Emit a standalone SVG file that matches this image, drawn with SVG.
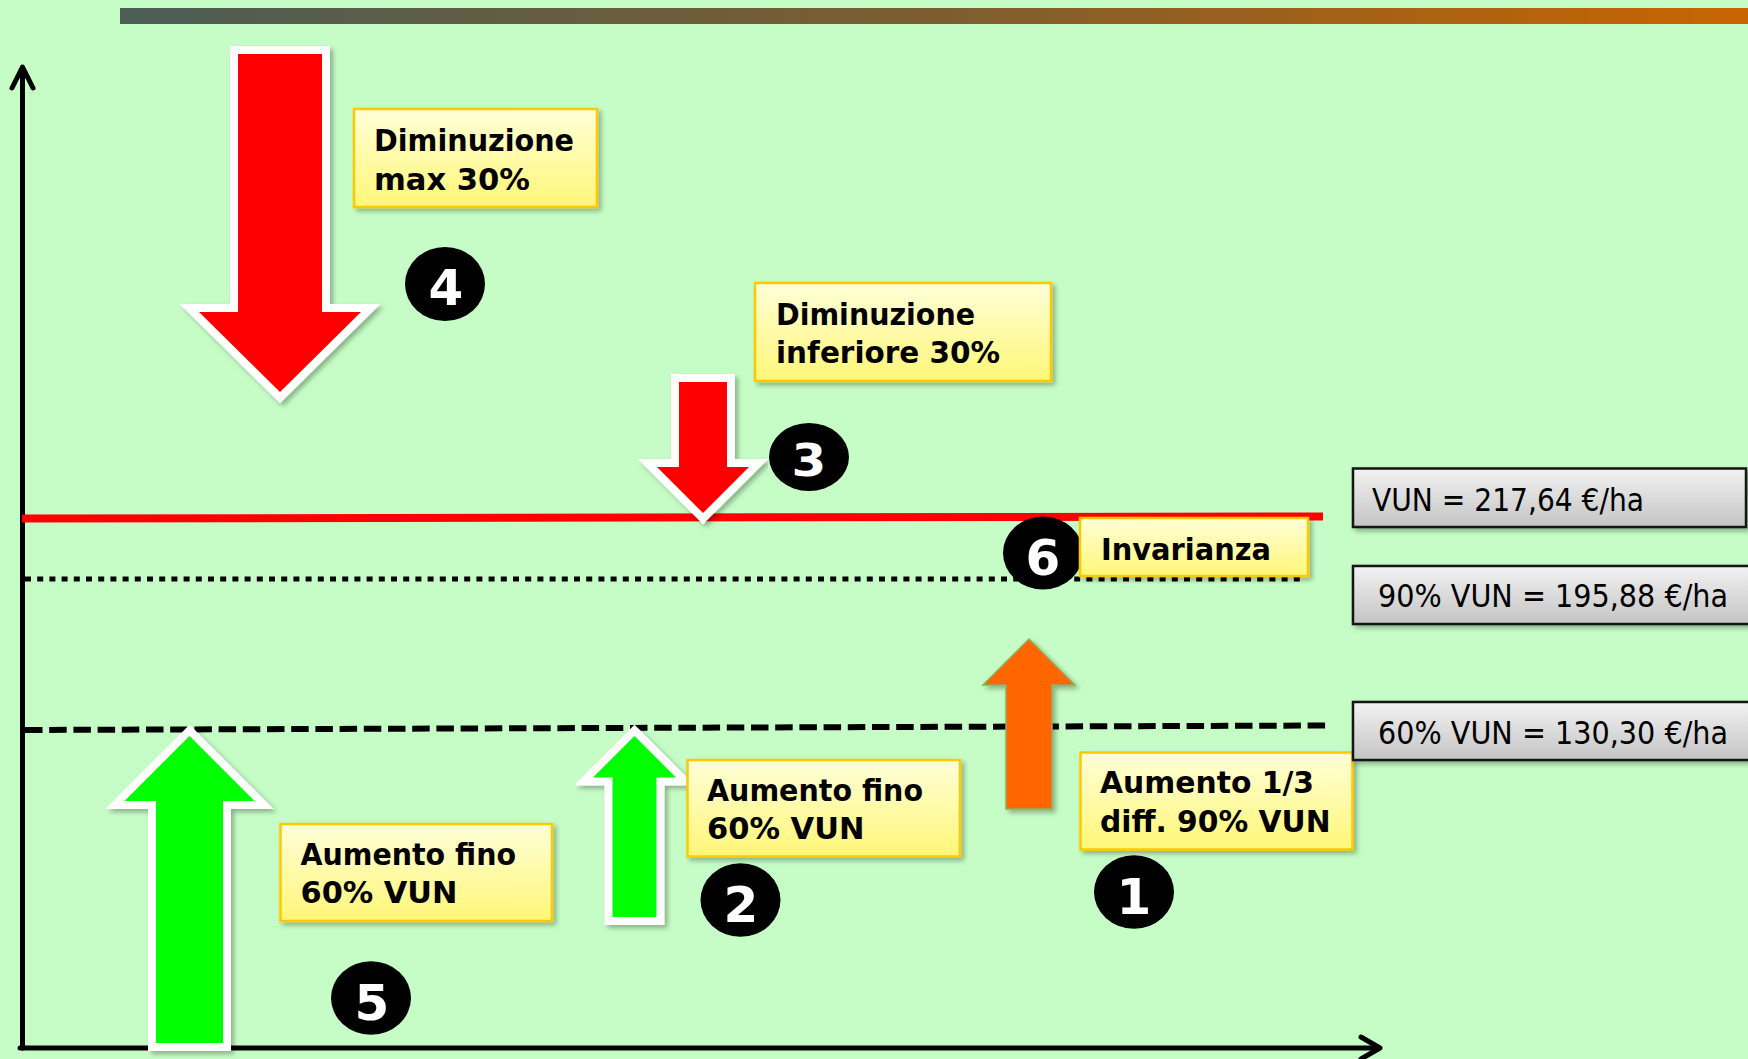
<svg xmlns="http://www.w3.org/2000/svg" width="1748" height="1059" viewBox="0 0 1748 1059">
<defs>
<linearGradient id="bar" x1="0" y1="0" x2="1" y2="0">
<stop offset="0" stop-color="#4b5d55"/>
<stop offset="0.5" stop-color="#7c5d30"/>
<stop offset="1" stop-color="#c96500"/>
</linearGradient>
<linearGradient id="yel" x1="0" y1="0" x2="0" y2="1">
<stop offset="0" stop-color="#ffffd8"/>
<stop offset="1" stop-color="#fff678"/>
</linearGradient>
<linearGradient id="gray" x1="0" y1="0" x2="0" y2="1">
<stop offset="0" stop-color="#f2f2f2"/>
<stop offset="1" stop-color="#c4c4c4"/>
</linearGradient>
<filter id="sh" x="-20%" y="-20%" width="140%" height="140%">
<feDropShadow dx="3" dy="3" stdDeviation="2.5" flood-color="#000" flood-opacity="0.3"/>
</filter>
<style>
.lbl{font-family:"DejaVu Sans","Liberation Sans",sans-serif;font-weight:bold;font-size:31px;fill:#000}
.val{font-family:"DejaVu Sans","Liberation Sans",sans-serif;font-size:32px;fill:#000}
.num{font-family:"DejaVu Sans","Liberation Sans",sans-serif;font-weight:bold;font-size:50px;fill:#fff;text-anchor:middle}
.ybox{fill:url(#yel);stroke:#ffc800;stroke-width:2.5;filter:url(#sh)}
.gbox{fill:url(#gray);stroke:#141414;stroke-width:2.5;filter:url(#sh)}
.wa{stroke:#fff;stroke-width:16;paint-order:stroke;stroke-linejoin:miter;stroke-miterlimit:4;filter:url(#sh)}
.axis{stroke:#000;stroke-width:5;fill:none;stroke-linecap:round;stroke-linejoin:round}
</style>
</defs>
<rect width="1748" height="1059" fill="#c6fdc6"/>
<rect x="120" y="8" width="1628" height="16" fill="url(#bar)"/>

<g id="connectors">
<line class="axis" x1="22.5" y1="1048" x2="22.5" y2="68" stroke-linecap="butt"/>
<polyline class="axis" points="12,88 22.5,67 33,88"/>
<line class="axis" x1="20" y1="1048" x2="1378" y2="1048" stroke-linecap="butt"/>
<polyline class="axis" points="1361,1037 1380,1048 1361,1059"/>
<line id="line-vun" x1="22" y1="518.5" x2="1323" y2="516.5" stroke="#ff0000" stroke-width="8"/>
<line id="line-90" x1="25" y1="579" x2="1306" y2="579" stroke="#000" stroke-width="5" stroke-dasharray="6 6.2"/>
<line id="line-60" x1="25" y1="730" x2="1327" y2="725.5" stroke="#000" stroke-width="6" stroke-dasharray="17.5 6.7"/>
</g>

<g id="arrow4">
<polygon class="wa" fill="#ff0000" points="238,54 322,54 322,312 361,312 280,392 199,312 238,312"/>
</g>
<g id="arrow3">
<polygon class="wa" fill="#ff0000" points="679,382 727,382 727,467 749,467 703,513 657,467 679,467"/>
</g>
<g id="arrow5">
<polygon class="wa" fill="#00ff00" points="189.5,736 254.5,801 223,801 223,1043 156,1043 156,801 124.5,801"/>
</g>
<g id="arrow2">
<polygon class="wa" fill="#00ff00" points="634.5,736 676,777.5 656.5,777.5 656.5,917 612.5,917 612.5,777.5 593,777.5"/>
</g>
<g id="arrow1">
<polygon fill="#ff6600" stroke="#8fae58" stroke-width="1.5" filter="url(#sh)" points="1029,639 1075,685 1052,685 1052,809 1006,809 1006,685 983,685"/>
</g>

<g id="box-dim-max">
<rect class="ybox" x="354" y="109" width="243" height="98"/>
<text class="lbl" x="374" y="151" textLength="200" lengthAdjust="spacingAndGlyphs">Diminuzione</text>
<text class="lbl" x="374" y="190" textLength="156" lengthAdjust="spacingAndGlyphs">max 30%</text>
</g>
<g id="box-dim-inf">
<rect class="ybox" x="755" y="283" width="296" height="98"/>
<text class="lbl" x="776" y="325" textLength="199" lengthAdjust="spacingAndGlyphs">Diminuzione</text>
<text class="lbl" x="776" y="363" textLength="224" lengthAdjust="spacingAndGlyphs">inferiore 30%</text>
</g>

<g id="badge4"><ellipse cx="445" cy="284" rx="40" ry="37"/><text class="num" x="446" y="305">4</text></g>
<g id="badge3"><ellipse cx="809" cy="457" rx="40" ry="34"/><text class="num" x="809" y="476" transform="translate(809 476) scale(1 0.9) translate(-809 -476)">3</text></g>
<g id="badge6"><ellipse cx="1043" cy="553" rx="40" ry="36.5"/><text class="num" x="1043" y="575">6</text></g>
<g id="badge2"><ellipse cx="740.5" cy="900" rx="40" ry="36.7"/><text class="num" x="741" y="922">2</text></g>
<g id="badge1"><ellipse cx="1134" cy="892" rx="40" ry="36.7"/><text class="num" x="1134" y="914">1</text></g>
<g id="badge5"><ellipse cx="371" cy="998" rx="40" ry="36.7"/><text class="num" x="372" y="1020">5</text></g>

<g id="box-invarianza">
<rect class="ybox" x="1080" y="518" width="228" height="58"/>
<text class="lbl" x="1101" y="560" font-size="32" textLength="170" lengthAdjust="spacingAndGlyphs">Invarianza</text>
</g>
<g id="box-aum5">
<rect class="ybox" x="280.5" y="824" width="271.5" height="97"/>
<text class="lbl" x="300.5" y="865" textLength="215.5" lengthAdjust="spacingAndGlyphs">Aumento fino</text>
<text class="lbl" x="300.5" y="903" textLength="157" lengthAdjust="spacingAndGlyphs">60% VUN</text>
</g>
<g id="box-aum2">
<rect class="ybox" x="687.5" y="760" width="272.5" height="96.5"/>
<text class="lbl" x="707" y="800.5" textLength="216" lengthAdjust="spacingAndGlyphs">Aumento fino</text>
<text class="lbl" x="707" y="839" textLength="157.5" lengthAdjust="spacingAndGlyphs">60% VUN</text>
</g>
<g id="box-aum1">
<rect class="ybox" x="1080.5" y="752.5" width="272" height="97"/>
<text class="lbl" x="1100" y="792.5" textLength="214" lengthAdjust="spacingAndGlyphs">Aumento 1/3</text>
<text class="lbl" x="1100" y="831.5" textLength="230.5" lengthAdjust="spacingAndGlyphs">diff. 90% VUN</text>
</g>

<g id="val-vun">
<rect class="gbox" x="1353" y="468.5" width="393" height="58.5"/>
<text class="val" x="1372" y="510.5" textLength="272" lengthAdjust="spacingAndGlyphs">VUN = 217,64 €/ha</text>
</g>
<g id="val-90">
<rect class="gbox" x="1353" y="566" width="396.5" height="58"/>
<text class="val" x="1378" y="606.5" textLength="350" lengthAdjust="spacingAndGlyphs">90% VUN = 195,88 €/ha</text>
</g>
<g id="val-60">
<rect class="gbox" x="1353" y="702" width="396.5" height="58"/>
<text class="val" x="1378" y="744" textLength="350" lengthAdjust="spacingAndGlyphs">60% VUN = 130,30 €/ha</text>
</g>
</svg>
